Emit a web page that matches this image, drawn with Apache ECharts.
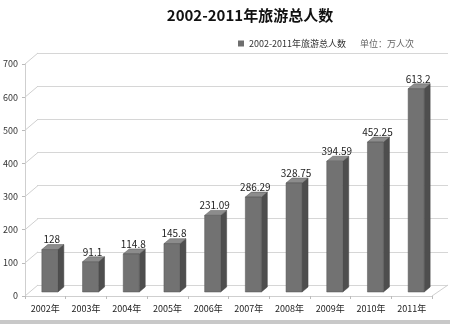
<!DOCTYPE html>
<html><head><meta charset="utf-8">
<script src="https://cdn.jsdelivr.net/npm/echarts@6/dist/echarts.min.js"></script>
<style>html,body{margin:0;padding:0;background:#fff}#c{width:450px;height:324px}</style>
</head><body><div id="c"></div>
<script>
const categories = ['2002年','2003年','2004年','2005年','2006年','2007年','2008年','2009年','2010年','2011年'];
const values = [128, 91.1, 114.8, 145.8, 231.09, 286.29, 328.75, 394.59, 452.25, 613.2];
const labels = ['128','91.1','114.8','145.8','231.09','286.29','328.75','394.59','452.25','613.2'];
const yTicks = [0, 100, 200, 300, 400, 500, 600, 700];
const seriesName = '2002-2011年旅游总人数';

const DX = 13, DY = -11; // depth of back wall
const chart = echarts.init(document.getElementById('c'));
const font = '"Noto Sans CJK SC", "Noto Sans", sans-serif';

function barItem(params, api) {
  const top = api.coord([api.value(0), api.value(1)]);
  const base = api.coord([api.value(0), 0]);
  const shift = -4;
  const x0 = top[0] - 3.5, w = 16, sx = 6, sy = -5;
  const yt = top[1] + shift, yb = base[1] + shift;
  return {
    type: 'group',
    children: [
      { type: 'polygon', shape: { points: [[x0 + w, yt], [x0 + w + sx, yt + sy], [x0 + w + sx, yb + sy], [x0 + w, yb]] },
        style: { fill: '#4e4e4e', stroke: '#444', lineWidth: 0.5 } },
      { type: 'polygon', shape: { points: [[x0, yt], [x0 + sx, yt + sy], [x0 + w + sx, yt + sy], [x0 + w, yt]] },
        style: { fill: '#8c8c8c', stroke: '#555', lineWidth: 0.5 } },
      { type: 'rect', shape: { x: x0, y: yt, width: w, height: yb - yt },
        style: { fill: '#727272', stroke: '#555', lineWidth: 0.5 } },
      { type: 'text', x: x0 + w / 2 + 2, y: yt - 5,
        style: { text: labels[params.dataIndex], fill: '#222', font: '10px ' + font, align: 'center', verticalAlign: 'bottom' } }
    ]
  };
}

function diagItem(params, api) {
  const cs = params.coordSys;
  const y = api.coord([0, api.value(1)])[1];
  const children = [{ type: 'line', shape: { x1: cs.x, y1: y, x2: cs.x + DX, y2: y + DY }, style: { stroke: '#d0d0d0', lineWidth: 1 } }];
  if (api.value(1) === 0) {
    children.push({ type: 'line', shape: { x1: cs.x + cs.width, y1: y, x2: cs.x + cs.width + DX + 3, y2: y + DY }, style: { stroke: '#d0d0d0', lineWidth: 1 } });
  }
  return { type: 'group', children };
}

chart.setOption({
  animation: false,
  backgroundColor: '#fff',
  title: [
    { text: '2002-2011年旅游总人数', left: 245, top: 3, textAlign: 'center',
      textStyle: { fontSize: 15, fontWeight: 'bold', color: '#111', fontFamily: font } },
    { text: '单位：万人次', left: 355, top: 34, textStyle: { fontSize: 9, fontWeight: 'normal', color: '#666', fontFamily: font } }
  ],
  legend: { data: [seriesName], left: 233, top: 34, itemWidth: 6, itemHeight: 6, itemGap: 3,
    icon: 'rect', textStyle: { fontSize: 9, color: '#333', fontFamily: font } },
  grid: [
    { left: 24, right: 18, top: 64, bottom: 28 },
    { left: 24 + DX, right: 18 - DX - 3, top: 64 + DY, bottom: 28 - DY }
  ],
  xAxis: [
    { type: 'category', data: categories, gridIndex: 0,
      axisLine: { lineStyle: { color: '#cfcfcf' } },
      axisTick: { show: true, length: 3, lineStyle: { color: '#bbb' } },
      axisLabel: { fontSize: 9, color: '#222', margin: 8, fontFamily: font } },
    { type: 'value', gridIndex: 1, min: 0, max: 1, show: false }
  ],
  yAxis: [
    { type: 'value', gridIndex: 0, min: 0, max: 700, interval: 100,
      axisLine: { show: true, lineStyle: { color: '#cfcfcf' } },
      axisTick: { show: true, length: 3, lineStyle: { color: '#bbb' } },
      splitLine: { show: false },
      axisLabel: { fontSize: 9, color: '#333', margin: 7, fontFamily: font } },
    { type: 'value', gridIndex: 1, min: 0, max: 700, interval: 100,
      axisLine: { show: false }, axisTick: { show: false }, axisLabel: { show: false },
      splitLine: { show: true, lineStyle: { color: '#d6d6d6' } } }
  ],
  series: [
    { type: 'custom', name: 'diag', xAxisIndex: 0, yAxisIndex: 0, silent: true,
      renderItem: diagItem, data: yTicks.map(v => [0, v]), z: 1 },
    { type: 'custom', name: seriesName, xAxisIndex: 0, yAxisIndex: 0, itemStyle: { color: '#6e6e6e' },
      renderItem: barItem, data: values.map((v, i) => [i, v]), z: 5 }
  ],
  graphic: [
    { type: 'rect', left: 0, bottom: 0, shape: { width: 450, height: 4 }, style: { fill: '#c8c8c8' } }
  ]
});
</script></body></html>
